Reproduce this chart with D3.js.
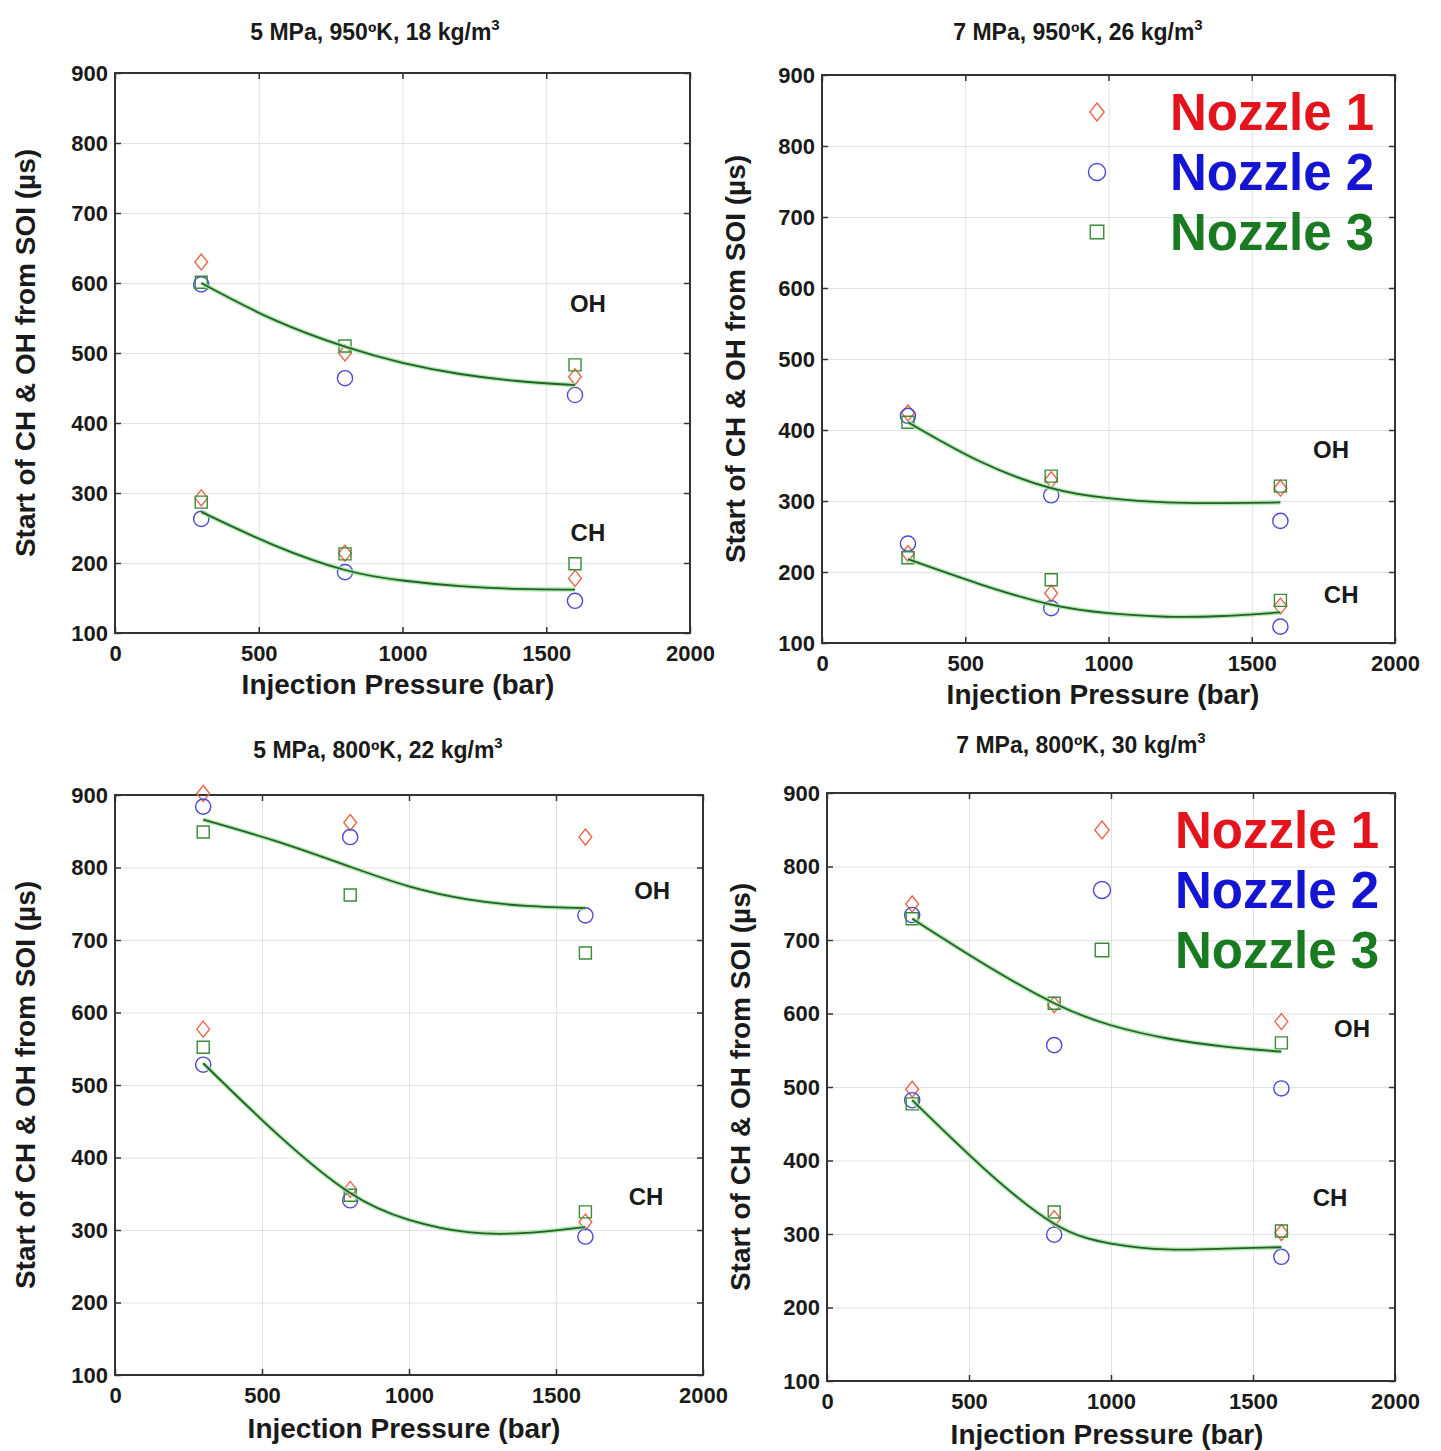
<!DOCTYPE html>
<html lang="en">
<head>
<meta charset="utf-8">
<title>Start of CH & OH vs injection pressure</title>
<script src="https://cdn.jsdelivr.net/npm/d3@7"></script>
<style>
  body { margin: 0; background: #fff; }
  text { font-family: "Liberation Sans", Arial, sans-serif; font-weight: bold; fill: #1a1a1a; }
</style>
</head>
<body>
<script>
// ---- data ----
var pressures = [300, 800, 1600];
var fitPressures = [300, 550, 800, 1000, 1200, 1400, 1600];
var xTicks = [0, 500, 1000, 1500, 2000];
var yTicks = [100, 200, 300, 400, 500, 600, 700, 800, 900];
var nozzles = ["Nozzle 1", "Nozzle 2", "Nozzle 3"];

// 5 MPa, 950 K, 18 kg/m3
var a_OH_n1 = [630, 500, 466], a_OH_n2 = [598, 464, 440], a_OH_n3 = [601, 510, 483];
var a_CH_n1 = [293, 214, 178], a_CH_n2 = [263, 187, 146], a_CH_n3 = [287, 213, 199];
var a_OH_fit = [600, 548, 509, 486, 470, 460, 454];
var a_CH_fit = [273, 226, 190, 175, 167, 163, 162];

// 7 MPa, 950 K, 26 kg/m3
var b_OH_n1 = [424, 330, 318], b_OH_n2 = [420, 308, 272], b_OH_n3 = [411, 335, 321];
var b_CH_n1 = [226, 170, 152], b_CH_n2 = [240, 149, 123], b_CH_n3 = [220, 189, 160];
var b_OH_fit = [411, 356, 318, 304, 298, 297, 298];
var b_CH_fit = [218, 183, 154, 142, 137, 138, 143];

// 5 MPa, 800 K, 22 kg/m3
var c_OH_n1 = [902, 862, 842], c_OH_n2 = [884, 842, 734], c_OH_n3 = [849, 762, 682];
var c_CH_n1 = [577, 356, 311], c_CH_n2 = [528, 341, 291], c_CH_n3 = [552, 348, 325];
var c_OH_fit = [866, 836, 801, 774, 756, 747, 744];
var c_CH_fit = [530, 433, 351, 314, 297, 296, 304];

// 7 MPa, 800 K, 30 kg/m3
var d_OH_n1 = [749, 612, 589], d_OH_n2 = [734, 557, 498], d_OH_n3 = [729, 614, 560];
var d_CH_n1 = [497, 321, 302], d_CH_n2 = [482, 299, 269], d_CH_n3 = [477, 330, 304];
var d_OH_fit = [729, 668, 614, 584, 566, 555, 548];
var d_CH_fit = [482, 390, 314, 287, 279, 280, 282];

var markerColors = ["#e8684a", "#4a4ad6", "#3a8a3a"];
var legendColors = ["#e3141c", "#1414d2", "#1a7a22"];
var shapes = ["diamond", "circle", "square"];

var panels = [
  { title: ["5 MPa, 950ºK, 18 kg/m", "3"], box: [115, 73, 690, 633], titleX: 375, titleY: 40,
    xLabelX: 398, xLabelY: 694, yLabelX: 35, legend: false,
    sets: [[a_OH_n1, a_OH_n2, a_OH_n3], [a_CH_n1, a_CH_n2, a_CH_n3]], fits: [a_OH_fit, a_CH_fit],
    labels: [["OH", 1645, 571], ["CH", 1645, 243]] },
  { title: ["7 MPa, 950ºK, 26 kg/m", "3"], box: [822, 75, 1395, 643], titleX: 1078, titleY: 40,
    xLabelX: 1103, xLabelY: 704, yLabelX: 745, legend: true,
    sets: [[b_OH_n1, b_OH_n2, b_OH_n3], [b_CH_n1, b_CH_n2, b_CH_n3]], fits: [b_OH_fit, b_CH_fit],
    labels: [["OH", 1777, 372], ["CH", 1812, 169]] },
  { title: ["5 MPa, 800ºK, 22 kg/m", "3"], box: [115, 795, 703, 1375], titleX: 378, titleY: 758,
    xLabelX: 404, xLabelY: 1438, yLabelX: 35, legend: false,
    sets: [[c_OH_n1, c_OH_n2, c_OH_n3], [c_CH_n1, c_CH_n2, c_CH_n3]], fits: [c_OH_fit, c_CH_fit],
    labels: [["OH", 1827, 768], ["CH", 1806, 346]] },
  { title: ["7 MPa, 800ºK, 30 kg/m", "3"], box: [827, 793, 1395, 1381], titleX: 1081, titleY: 753,
    xLabelX: 1107, xLabelY: 1444, yLabelX: 750, legend: true,
    sets: [[d_OH_n1, d_OH_n2, d_OH_n3], [d_CH_n1, d_CH_n2, d_CH_n3]], fits: [d_OH_fit, d_CH_fit],
    labels: [["OH", 1849, 579], ["CH", 1771, 350]] }
];

var svg = d3.select("body").append("svg")
  .attr("width", 1441)
  .attr("height", 1451);

function markerPath(shape, s) {
  if (shape == "diamond") return "M0," + (-s) + "L" + (s * 0.8) + ",0L0," + s + "L" + (-s * 0.8) + ",0Z";
  return "M" + (-s * 0.75) + "," + (-s * 0.75) + "h" + (s * 1.5) + "v" + (s * 1.5) + "h" + (-s * 1.5) + "Z";
}

function drawMarker(g, shape, x, y, s, color) {
  if (shape == "circle") {
    g.append("circle").attr("cx", x).attr("cy", y).attr("r", s * 0.95)
      .attr("fill", "none").attr("stroke", color).attr("stroke-width", 1.4);
  } else {
    g.append("path").attr("d", markerPath(shape, s))
      .attr("transform", "translate(" + x + "," + y + ")")
      .attr("fill", "none").attr("stroke", color).attr("stroke-width", 1.4);
  }
}

panels.forEach(function(p) {
  var left = p.box[0], top = p.box[1], right = p.box[2], bottom = p.box[3];
  var x = d3.scaleLinear().domain([0, 2000]).range([left, right]);
  var y = d3.scaleLinear().domain([100, 900]).range([bottom, top]);
  var g = svg.append("g");

  //grid
  g.append("g").attr("transform", "translate(0," + bottom + ")")
    .call(d3.axisBottom(x).tickValues(xTicks).tickSize(-(bottom - top)).tickFormat(""))
    .call(function(s) { s.select(".domain").remove(); s.selectAll("line").attr("stroke", "#e2e2e2"); });
  g.append("g").attr("transform", "translate(" + left + ",0)")
    .call(d3.axisLeft(y).tickValues(yTicks).tickSize(-(right - left)).tickFormat(""))
    .call(function(s) { s.select(".domain").remove(); s.selectAll("line").attr("stroke", "#e2e2e2"); });

  //axes with inward ticks
  var xa = g.append("g").attr("transform", "translate(0," + bottom + ")")
    .call(d3.axisBottom(x).tickValues(xTicks).tickFormat(d3.format("d"))
      .tickSizeInner(-6).tickSizeOuter(0).tickPadding(12));
  var ya = g.append("g").attr("transform", "translate(" + left + ",0)")
    .call(d3.axisLeft(y).tickValues(yTicks).tickFormat(d3.format("d"))
      .tickSizeInner(-6).tickSizeOuter(0).tickPadding(7));
  var xt = g.append("g").attr("transform", "translate(0," + top + ")")
    .call(d3.axisTop(x).tickValues(xTicks).tickSizeInner(-6).tickSizeOuter(0).tickFormat(""));
  var yr = g.append("g").attr("transform", "translate(" + right + ",0)")
    .call(d3.axisRight(y).tickValues(yTicks).tickSizeInner(-6).tickSizeOuter(0).tickFormat(""));
  [xa, ya, xt, yr].forEach(function(a) {
    a.select(".domain").remove();
    a.selectAll("line").attr("stroke", "#333").attr("stroke-width", 1.5);
    a.selectAll("text").style("font-size", "22px").attr("fill", "#1a1a1a")
      .style("font-family", "'Liberation Sans', Arial, sans-serif").style("font-weight", "bold");
  });

  g.append("rect").attr("x", left).attr("y", top)
    .attr("width", right - left).attr("height", bottom - top)
    .attr("fill", "none").attr("stroke", "#333").attr("stroke-width", 2);

  //data markers
  p.sets.forEach(function(set) {
    set.forEach(function(vals, k) {
      vals.forEach(function(v, i) {
        drawMarker(g, shapes[k], x(pressures[i]), y(v), 8, markerColors[k]);
      });
    });
  });

  //fit curves
  var line = d3.line()
    .x(function(d, i) { return x(fitPressures[i]); })
    .y(function(d) { return y(d); })
    .curve(d3.curveNatural);
  p.fits.forEach(function(f) {
    g.append("path").attr("d", line(f)).attr("fill", "none")
      .attr("stroke", "#9fe39a").attr("stroke-width", 4.5).attr("opacity", 0.8);
    g.append("path").attr("d", line(f)).attr("fill", "none")
      .attr("stroke", "#23602a").attr("stroke-width", 1.8);
  });

  //OH / CH labels
  p.labels.forEach(function(l) {
    g.append("text").attr("x", x(l[1])).attr("y", y(l[2]))
      .attr("text-anchor", "middle").attr("dominant-baseline", "central")
      .style("font-size", "24px").text(l[0]);
  });

  //title
  var t = g.append("text").attr("x", p.titleX).attr("y", p.titleY)
    .attr("text-anchor", "middle").style("font-size", "23px");
  t.append("tspan").text(p.title[0]);
  t.append("tspan").attr("dy", -10).style("font-size", "15px").text(p.title[1]);

  //axis labels
  g.append("text").attr("x", p.xLabelX).attr("y", p.xLabelY)
    .attr("text-anchor", "middle").style("font-size", "28px")
    .text("Injection Pressure (bar)");
  g.append("text")
    .attr("transform", "translate(" + p.yLabelX + "," + ((top + bottom) / 2) + ") rotate(-90)")
    .attr("text-anchor", "middle").style("font-size", "28px")
    .text("Start of CH & OH from SOI (µs)");

  //legend
  if (p.legend) {
    nozzles.forEach(function(n, k) {
      var ly = top + 37 + k * 60;
      drawMarker(g, shapes[k], left + 275, ly, 9, markerColors[k]);
      g.append("text").attr("x", left + 348).attr("y", ly)
        .attr("dominant-baseline", "central")
        .style("font-size", "51px").style("fill", legendColors[k])
        .text(n);
    });
  }
});
</script>
</body>
</html>
